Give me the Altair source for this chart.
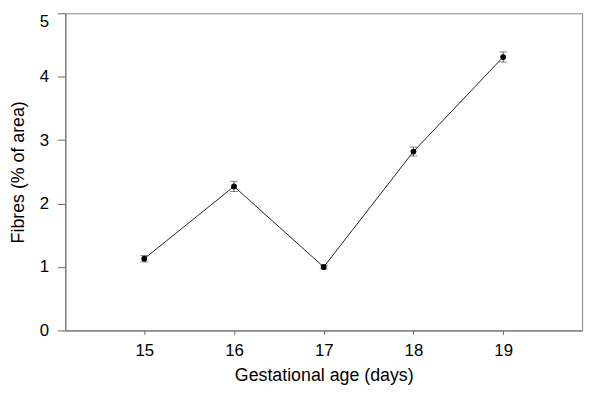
import altair as alt
import pandas as pd

ages = [15, 16, 17, 18, 19]
fibres = [1.13, 2.27, 1.00, 2.82, 4.31]
se = [0.05, 0.08, 0.03, 0.07, 0.08]

df = pd.DataFrame({"age": ages, "fibres": fibres, "se": se})
df["lo"] = df["fibres"] - df["se"]
df["hi"] = df["fibres"] + df["se"]

y_ticks = [i * 0.25 for i in range(21)]

x_scale = alt.Scale(domain=[14.12, 19.88], nice=False, zero=False)
y_scale = alt.Scale(domain=[0, 5], nice=False)

x_axis = alt.Axis(
    title="Gestational age (days)", values=ages, format="d",
    tickSize=4, labelPadding=8, titlePadding=9,
    labelFontSize=17, titleFontSize=18, labelFont="Liberation Sans", titleFont="Liberation Sans",
    labelColor="black", titleColor="black", titleFontWeight="normal",
    domainColor="#666666", tickColor="#666666", grid=False,
)
y_axis = alt.Axis(
    title="Fibres (% of area)", values=y_ticks, format="d",
    labelExpr="datum.value % 1 === 0 ? datum.label : ''",
    tickSize={"condition": {"test": "datum.value % 1 === 0", "value": 8}, "value": 4},
    labelBaseline={"condition": {"test": "datum.value === 5", "value": "top"}, "value": "middle"},
    labelPadding=9, titlePadding=12,
    labelFontSize=17, titleFontSize=18, labelFont="Liberation Sans", titleFont="Liberation Sans",
    labelColor="black", titleColor="black", titleFontWeight="normal",
    domainColor="#666666", tickColor="#666666", grid=False,
)

base = alt.Chart(df)

line = base.mark_line(color="#222222", strokeWidth=1).encode(
    x=alt.X("age:Q", scale=x_scale, axis=x_axis),
    y=alt.Y("fibres:Q", scale=y_scale, axis=y_axis),
)
bars = base.mark_rule(color="#555555", strokeWidth=1).encode(
    x="age:Q", y="lo:Q", y2="hi:Q"
)
cap_hi = base.mark_tick(color="#555555", thickness=1, size=8, orient="horizontal").encode(
    x="age:Q", y="hi:Q"
)
cap_lo = base.mark_tick(color="#555555", thickness=1, size=8, orient="horizontal").encode(
    x="age:Q", y="lo:Q"
)
points = base.mark_circle(color="black", size=34, opacity=1).encode(
    x="age:Q", y="fibres:Q"
)

chart = alt.layer(line, bars, cap_hi, cap_lo, points).properties(
    width=523, height=321,
    autosize=alt.AutoSizeParams(type="none"),
    padding={"left": 58, "top": 3, "right": 10, "bottom": 60},
    background="white",
).configure_view(stroke="#888888", strokeWidth=1)

chart.save("out.html", embed_options={"renderer": "svg", "actions": False})
